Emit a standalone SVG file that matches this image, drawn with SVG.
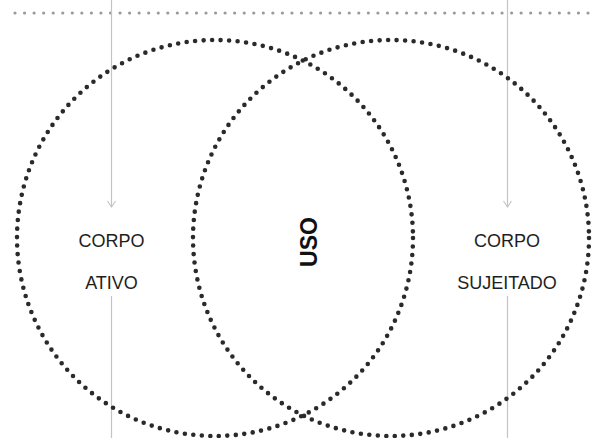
<svg xmlns="http://www.w3.org/2000/svg" width="592" height="438" viewBox="0 0 592 438">
<style>
.circ{fill:none;stroke:#2a2a2a;stroke-width:4.6;stroke-linecap:round;stroke-dasharray:0 8.53}
.topline{fill:none;stroke:#9a9a9a;stroke-width:3.2;stroke-linecap:round;stroke-dasharray:0 9.55}
.conn{fill:none;stroke:#c4c4c4;stroke-width:1.2}
.lbl{font-family:"Liberation Sans",Arial,sans-serif;font-size:18px;fill:#1e1e1e;text-anchor:middle}
.uso{font-family:"Liberation Sans",Arial,sans-serif;font-size:23px;font-weight:bold;fill:#111;text-anchor:middle}
</style>
<defs>
<marker id="arr" markerWidth="10" markerHeight="10" refX="8" refY="5" orient="auto" markerUnits="userSpaceOnUse" viewBox="0 0 10 10">
<path d="M2,1 L8,5 L2,9" fill="none" stroke="#c4c4c4" stroke-width="1.1"/>
</marker>
</defs>
<rect width="592" height="438" fill="#fff"/>
<line id="topline" class="topline" x1="15" y1="13" x2="592" y2="13"/>
<g id="connectors">
<line class="conn" x1="111.5" y1="0" x2="111.5" y2="207" marker-end="url(#arr)"/>
<line class="conn" x1="111.5" y1="296" x2="111.5" y2="438"/>
<line class="conn" x1="507.5" y1="0" x2="507.5" y2="207" marker-end="url(#arr)"/>
<line class="conn" x1="507.5" y1="296" x2="507.5" y2="438"/>
</g>
<g id="circle-left"><circle class="circ" cx="215" cy="238" r="198"/></g>
<g id="circle-right"><circle class="circ" cx="391" cy="238" r="198"/></g>
<g id="corpo-ativo">
<text class="lbl" x="111.5" y="247">CORPO</text>
<text class="lbl" x="111.5" y="289">ATIVO</text>
</g>
<g id="corpo-sujeitado">
<text class="lbl" x="507" y="247">CORPO</text>
<text class="lbl" x="507" y="289">SUJEITADO</text>
</g>
<g id="uso">
<text class="uso" transform="translate(317,242) rotate(-90)">USO</text>
</g>
</svg>
